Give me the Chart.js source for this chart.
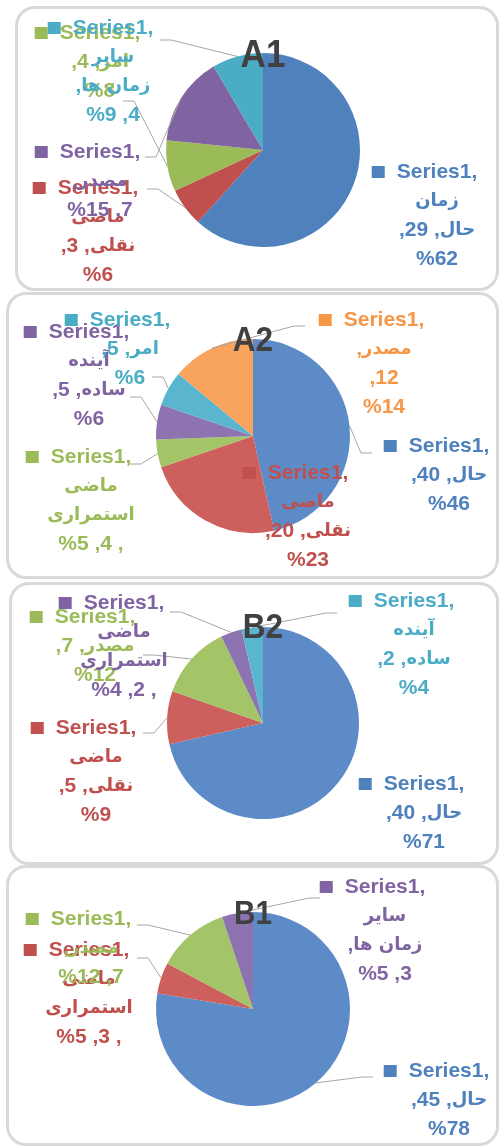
<html><head>
<meta charset="UTF-8">
<title>A1 / A2 / B2 / B1 pie charts</title>
<style>
  body {
    margin: 0;
    background: #ffffff;
    width: 499px;
    height: 1146px;
    position: relative;
    overflow: hidden;
  }
  .panel {
    position: absolute;
    box-sizing: border-box;
    border: 3px solid #d9d9d9;
    border-radius: 20px;
  }
  canvas {
    position: absolute;
    left: 0;
  }
</style>
<script src="https://cdn.jsdelivr.net/npm/chart.js"></script>
</head>
<body>
<script>
const C = {
  blue: '#4f81bd', red: '#c0504d', green: '#9bbb59',
  purple: '#8064a2', cyan: '#4bacc6', orange: '#f79646'
};
// slightly washed slice colours for the lower three charts
const L = {
  blue: '#5d8bc8', red: '#cd5f5c', green: '#a3c567',
  purple: '#8d74b0', cyan: '#5ab6cf', orange: '#f8a35e'
};

// box = rounded frame, cx/cy/r = where the pie sits, tags = data labels
// (label offsets are relative to the pie centre, like Excel's manual label positions)
// label lines are written in display order, Persian words kept in reading order
const panels = [
  {
    title: 'A1', titleSize: 39, titleDy: -97,
    box: [15, 6, 484, 285], cx: 263, cy: 150, r: 97,
    cats: ['زمان حال', 'ماضی نقلی', 'امر', 'مصدر', 'سایر زمان ها'],
    values: [29, 3, 4, 7, 4],
    keys: ['blue', 'red', 'green', 'purple', 'cyan'], pal: C,
    tags: [
      {dx: 174, dy: 22, lines: ['Series1,', 'زمان', ',29 ,حال', '%62'], lead: null},
      {dx: -165, dy: 38, lines: ['Series1,', 'ماضی', ',3 ,نقلی', '%6'], lead: [-116, 39]},
      {dx: -163, dy: -117, lines: ['Series1,', ',4 ,امر', '%8'], lead: [-140, -49]},
      {dx: -163, dy: 2, lines: ['Series1,', ',مصدر', '%15 ,7'], lead: [-118, 7]},
      {dx: -150, dy: -122, lines: ['Series1,', 'سایر', ',زمان ها', '%9 ,4'], lead: [-103, -110]}
    ]
  },
  {
    title: 'A2', titleSize: 35, titleDy: -98,
    box: [6, 292, 493, 287], cx: 253, cy: 436, r: 97,
    cats: ['حال', 'ماضی نقلی', 'ماضی استمراری', 'آینده ساده', 'امر', 'مصدر'],
    values: [40, 20, 4, 5, 5, 12],
    keys: ['blue', 'red', 'green', 'purple', 'cyan', 'orange'], pal: L,
    tags: [
      {dx: 196, dy: 10, lines: ['Series1,', ',40 ,حال', '%46'], lead: [119, 17]},
      {dx: 55, dy: 37, lines: ['Series1,', 'ماضی', ',20 ,نقلی', '%23'], lead: null},
      {dx: -162, dy: 21, lines: ['Series1,', 'ماضی', 'استمراری', '%5 ,4 ,'], lead: [-123, 28]},
      {dx: -164, dy: -104, lines: ['Series1,', 'آینده', ',5 ,ساده', '%6'], lead: [-123, -39]},
      {dx: -123, dy: -116, lines: ['Series1,', ',5 ,امر', '%6'], lead: [-101, -59]},
      {dx: 131, dy: -116, lines: ['Series1,', ',مصدر', ',12', '%14'], lead: [52, -110]}
    ]
  },
  {
    title: 'B2', titleSize: 35, titleDy: -98,
    box: [9, 582, 490, 283], cx: 263, cy: 723, r: 96,
    cats: ['حال', 'ماضی نقلی', 'مصدر', 'ماضی استمراری', 'آینده ساده'],
    values: [40, 5, 7, 2, 2],
    keys: ['blue', 'red', 'green', 'purple', 'cyan'], pal: L,
    tags: [
      {dx: 161, dy: 61, lines: ['Series1,', ',40 ,حال', '%71'], lead: null},
      {dx: -167, dy: 5, lines: ['Series1,', 'ماضی', ',5 ,نقلی', '%9'], lead: [-120, 10]},
      {dx: -168, dy: -106, lines: ['Series1,', ',7 ,مصدر', '%12'], lead: [-120, -68]},
      {dx: -139, dy: -120, lines: ['Series1,', 'ماضی', 'استمراری', '%4 ,2 ,'], lead: [-93, -111]},
      {dx: 151, dy: -122, lines: ['Series1,', 'آینده', ',2 ,ساده', '%4'], lead: [74, -110]}
    ]
  },
  {
    title: 'B1', titleSize: 33, titleDy: -97,
    box: [6, 865, 493, 281], cx: 253, cy: 1009, r: 97,
    cats: ['حال', 'ماضی استمراری', 'مصدر', 'سایر زمان ها'],
    values: [45, 3, 7, 3],
    keys: ['blue', 'red', 'green', 'purple'], pal: L,
    tags: [
      {dx: 196, dy: 62, lines: ['Series1,', ',45 ,حال', '%78'], lead: [120, 68]},
      {dx: -164, dy: -59, lines: ['Series1,', 'ماضی', 'استمراری', '%5 ,3 ,'], lead: [-116, -51]},
      {dx: -162, dy: -90, lines: ['Series1,', ',مصدر', '%12 ,7'], lead: [-116, -84]},
      {dx: 132, dy: -122, lines: ['Series1,', 'سایر', ',زمان ها', '%5 ,3'], lead: [67, -111]}
    ]
  }
];

const LINE_H = 29;
const AR_FONT = 'bold 18px "DejaVu Sans", sans-serif';
const LAT_FONT = 'bold 21px "Liberation Sans", Arial, sans-serif';
const RUNS = /[\u0600-\u06FF]+(?: [\u0600-\u06FF]+)*|[^\u0600-\u06FF]+/g;

// draws one label line run by run, centred on x; returns its width
function drawLine(ctx, text, x, y) {
  const runs = text.match(RUNS).map(s => {
    const ar = /[\u0600-\u06FF]/.test(s);
    ctx.font = ar ? AR_FONT : LAT_FONT;
    return {s, ar, w: ctx.measureText(s).width};
  });
  const total = runs.reduce((a, r) => a + r.w, 0);
  let px = x - total / 2;
  runs.forEach(r => {
    ctx.font = r.ar ? AR_FONT : LAT_FONT;
    ctx.fillText(r.s, px, y);
    px += r.w;
  });
  return total;
}

const sliceLabels = {
  id: 'sliceLabels',
  afterDatasetsDraw(chart, args, opts) {
    const p = opts.panel;
    const ctx = chart.ctx;
    const arcs = chart.getDatasetMeta(0).data;
    const cx = arcs[0].x, cy = arcs[0].y;
    ctx.save();

    // leader lines: short horizontal stub, then to the middle of the slice edge
    ctx.strokeStyle = '#a6a6a6';
    ctx.lineWidth = 1;
    p.tags.forEach((t, i) => {
      if (!t.lead) return;
      const a = arcs[i];
      const mid = (a.startAngle + a.endAngle) / 2;
      const ex = a.x + Math.cos(mid) * a.outerRadius;
      const ey = a.y + Math.sin(mid) * a.outerRadius;
      const sx = cx + t.lead[0], sy = cy + t.lead[1];
      const kx = sx + (ex > sx ? 11 : -11);
      ctx.beginPath();
      ctx.moveTo(sx, sy);
      ctx.lineTo(kx, sy);
      ctx.lineTo(ex, ey);
      ctx.stroke();
    });

    // data labels
    ctx.textAlign = 'left';
    ctx.textBaseline = 'middle';
    ctx.direction = 'ltr';
    p.tags.forEach((t, i) => {
      const x = cx + t.dx, y0 = cy + t.dy;
      ctx.fillStyle = C[p.keys[i]];
      t.lines.forEach((line, k) => {
        const w = drawLine(ctx, line, x, y0 + k * LINE_H);
        if (k === 0) ctx.fillRect(x - w / 2 - 25, y0 - 6, 13, 12);
      });
    });

    // chart title sits on the top of the pie
    ctx.fillStyle = '#404040';
    ctx.font = 'bold ' + p.titleSize + 'px "Liberation Sans", Arial, sans-serif';
    ctx.textAlign = 'center';
    ctx.textBaseline = 'alphabetic';
    ctx.translate(cx, cy + p.titleDy + p.titleSize * 0.358);
    ctx.scale(0.9, 1);
    ctx.fillText(p.title, 0, 0);
    ctx.restore();
  }
};

panels.forEach(p => {
  const [bx, by, bw, bh] = p.box;
  const frame = document.createElement('div');
  frame.className = 'panel';
  frame.style.left = bx + 'px';
  frame.style.top = by + 'px';
  frame.style.width = bw + 'px';
  frame.style.height = bh + 'px';
  document.body.appendChild(frame);

  const canvas = document.createElement('canvas');
  canvas.width = 499;
  canvas.height = bh;
  canvas.style.top = by + 'px';
  document.body.appendChild(canvas);

  const cyLocal = p.cy - by;
  new Chart(canvas.getContext('2d'), {
    type: 'pie',
    data: {
      labels: p.cats,
      datasets: [{
        data: p.values,
        backgroundColor: p.keys.map(k => p.pal[k]),
        borderWidth: 0
      }]
    },
    options: {
      responsive: false,
      animation: false,
      devicePixelRatio: 1,
      layout: {
        padding: {
          left: p.cx - p.r,
          right: 499 - p.cx - p.r,
          top: cyLocal - p.r,
          bottom: bh - cyLocal - p.r
        }
      },
      plugins: {
        legend: { display: false },
        tooltip: { enabled: false },
        sliceLabels: { panel: p }
      }
    },
    plugins: [sliceLabels]
  });
});
</script>
</body></html>
